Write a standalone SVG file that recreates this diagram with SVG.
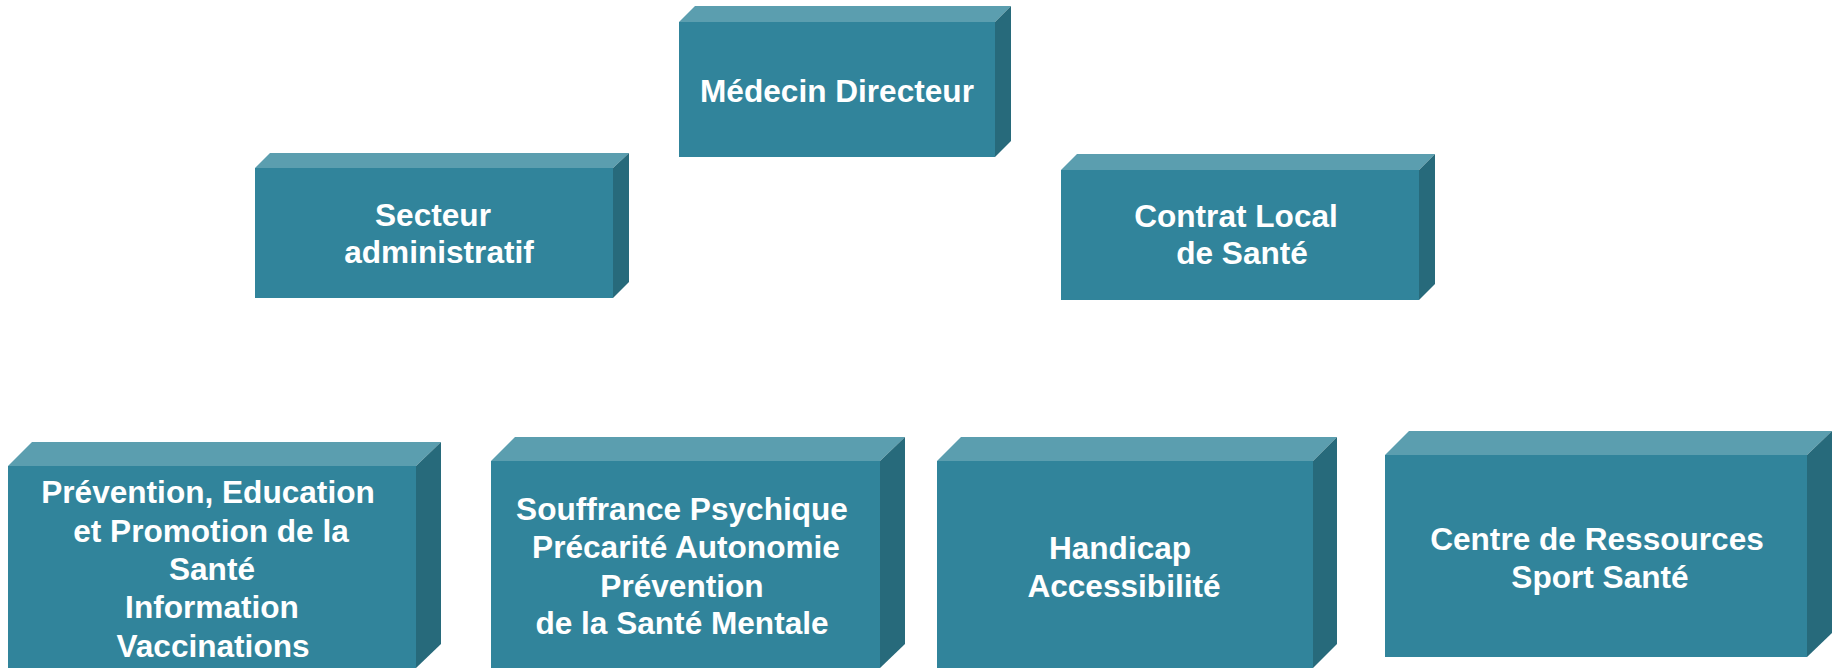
<svg xmlns="http://www.w3.org/2000/svg" width="1837" height="668" viewBox="0 0 1837 668">
<style>
.front{fill:#31849B}
.top{fill:#5B9EAF}
.side{fill:#276A7B}
text{font-family:"Liberation Sans",Arial,sans-serif;font-weight:bold;font-size:31.6px;fill:#FFFFFF;text-anchor:middle}
</style>
<rect width="1837" height="668" fill="#FFFFFF"/>
<g id="medecin-directeur">
<polygon class="top" points="679,22 695,6 1011,6 995,22"/>
<polygon class="side" points="995,22 1011,6 1011,141 995,157"/>
<rect class="front" x="679" y="22" width="316" height="135"/>
<text x="837" y="102">Médecin Directeur</text>
</g>
<g id="secteur-administratif">
<polygon class="top" points="255,168 270,153 629,153 613,168"/>
<polygon class="side" points="613,168 629,153 629,282 613,298"/>
<rect class="front" x="255" y="168" width="358" height="130"/>
<text x="433" y="226">Secteur</text>
<text x="439" y="263">administratif</text>
</g>
<g id="contrat-local-sante">
<polygon class="top" points="1061,170 1077,154 1435,154 1419,170"/>
<polygon class="side" points="1419,170 1435,154 1435,284 1419,300"/>
<rect class="front" x="1061" y="170" width="358" height="130"/>
<text x="1236" y="227">Contrat Local</text>
<text x="1242" y="264">de Santé</text>
</g>
<g id="prevention-education">
<polygon class="top" points="8,466 32,442 441,442 416,466"/>
<polygon class="side" points="416,466 441,442 441,644 416,668"/>
<rect class="front" x="8" y="466" width="408" height="202"/>
<text x="208" y="503">Prévention, Education</text>
<text x="211" y="542">et Promotion de la</text>
<text x="212" y="580">Santé</text>
<text x="212" y="618">Information</text>
<text x="213" y="657">Vaccinations</text>
</g>
<g id="souffrance-psychique">
<polygon class="top" points="491,461 515,437 905,437 880,461"/>
<polygon class="side" points="880,461 905,437 905,644 880,668"/>
<rect class="front" x="491" y="461" width="389" height="207"/>
<text x="682" y="520">Souffrance Psychique</text>
<text x="686" y="558">Précarité Autonomie</text>
<text x="682" y="597">Prévention</text>
<text x="682" y="634">de la Santé Mentale</text>
</g>
<g id="handicap-accessibilite">
<polygon class="top" points="937,461 961,437 1337,437 1313,461"/>
<polygon class="side" points="1313,461 1337,437 1337,644 1313,668"/>
<rect class="front" x="937" y="461" width="376" height="207"/>
<text x="1120" y="559">Handicap</text>
<text x="1124" y="597">Accessibilité</text>
</g>
<g id="centre-ressources">
<polygon class="top" points="1385,455 1409,431 1832,431 1807,455"/>
<polygon class="side" points="1807,455 1832,431 1832,633 1807,657"/>
<rect class="front" x="1385" y="455" width="422" height="202"/>
<text x="1597" y="550">Centre de Ressources</text>
<text x="1600" y="588">Sport Santé</text>
</g>
</svg>
